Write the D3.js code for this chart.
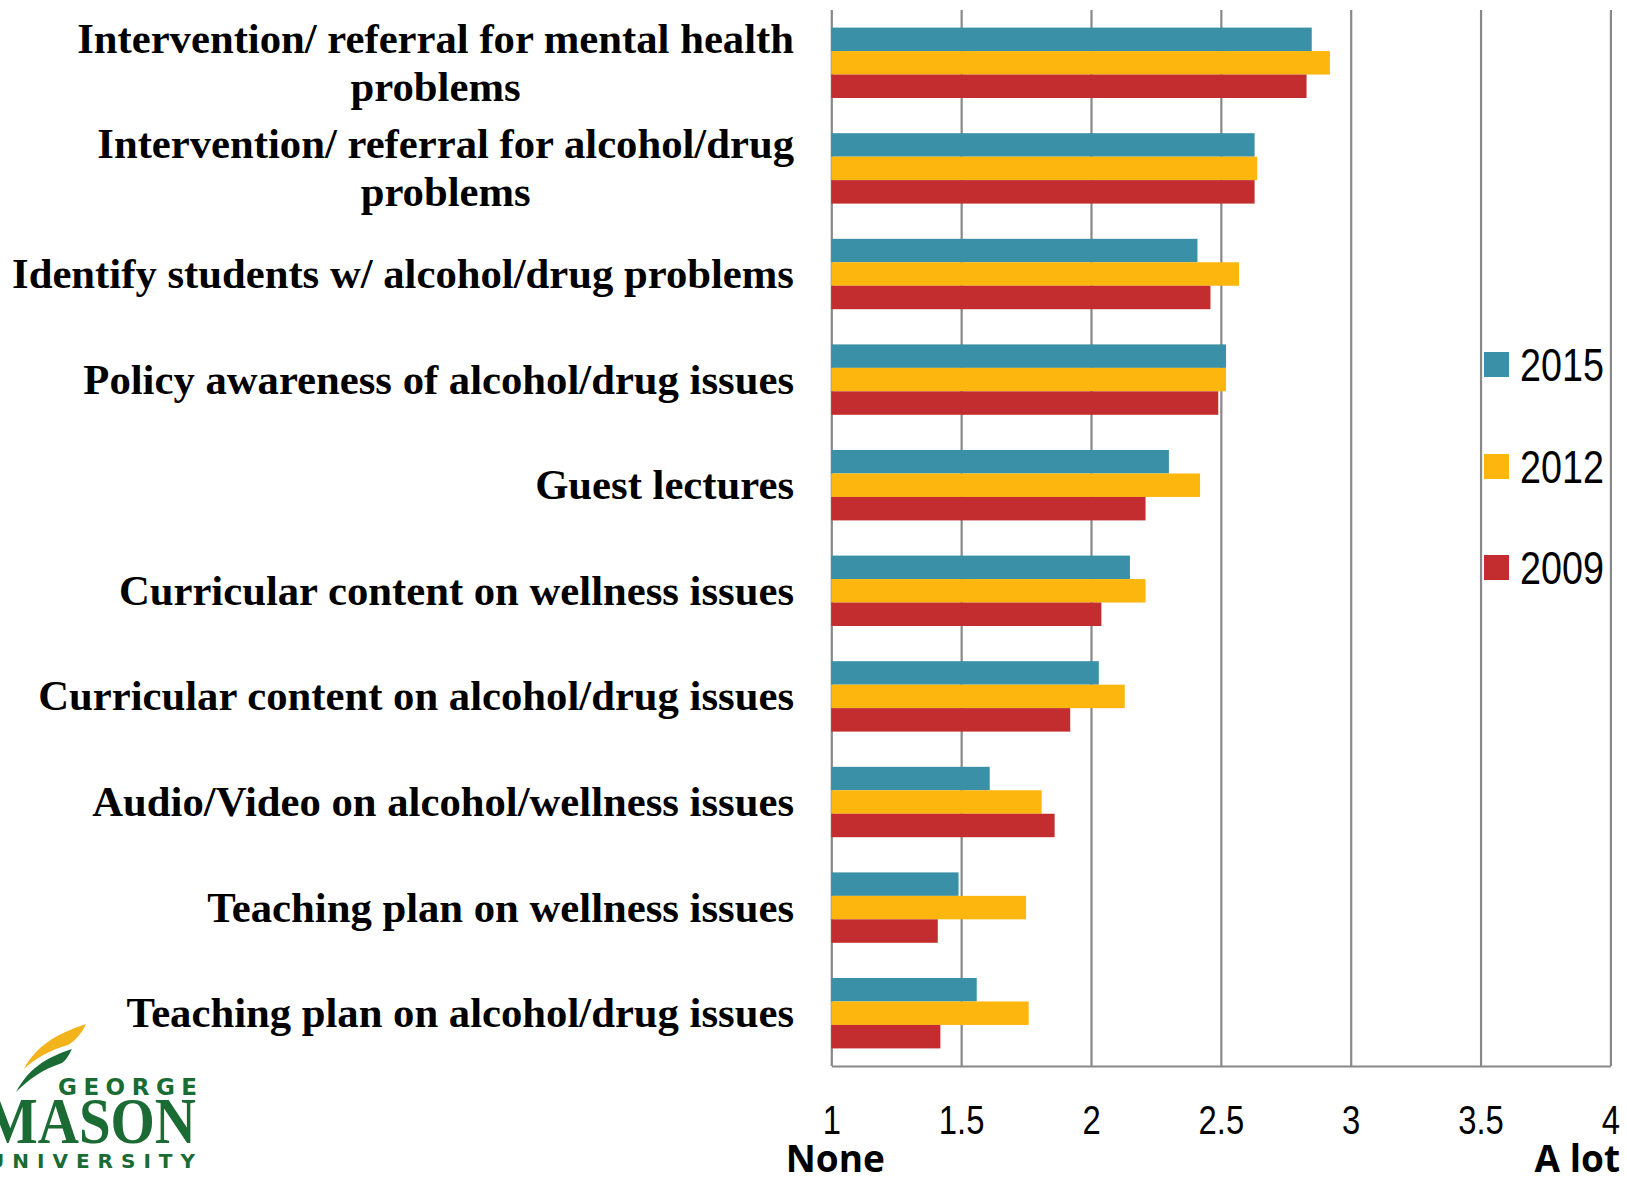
<!DOCTYPE html>
<html>
<head>
<meta charset="utf-8">
<script src="https://cdn.jsdelivr.net/npm/d3@7/dist/d3.min.js"></script>
<style>
  html, body { margin: 0; padding: 0; background: #ffffff; }
  svg { display: block; }
</style>
</head>
<body>
<svg id="chart" width="1627" height="1179"></svg>
<script>
// ---- data ----
const categories = [
  "Intervention/ referral for mental health\nproblems",
  "Intervention/ referral for alcohol/drug\nproblems",
  "Identify students w/ alcohol/drug problems",
  "Policy awareness of alcohol/drug issues",
  "Guest lectures",
  "Curricular content on wellness issues",
  "Curricular content on alcohol/drug issues",
  "Audio/Video on alcohol/wellness issues",
  "Teaching plan on wellness issues",
  "Teaching plan on alcohol/drug issues"
];
const seriesNames = ["2015", "2012", "2009"];
const values2015 = [2.85, 2.63, 2.41, 2.52, 2.30, 2.15, 2.03, 1.61, 1.49, 1.56];
const values2012 = [2.92, 2.64, 2.57, 2.52, 2.42, 2.21, 2.13, 1.81, 1.75, 1.76];
const values2009 = [2.83, 2.63, 2.46, 2.49, 2.21, 2.04, 1.92, 1.86, 1.41, 1.42];
const tickValues = [1, 1.5, 2, 2.5, 3, 3.5, 4];
const tickLabels = ["1", "1.5", "2", "2.5", "3", "3.5", "4"];
const axisEndLabels = ["None", "A lot"];
const seriesColors = ["#3a90a6", "#fdb60e", "#c32d2f"];

const seriesValues = [values2015, values2012, values2009];

// ---- layout ----
const svg = d3.select("#chart");
const plotLeft = 831.3, plotRight = 1610.4, plotTop = 10, plotBottom = 1066;

const x = d3.scaleLinear().domain([1, 4]).range([plotLeft, plotRight]);
const y = d3.scaleBand().domain(categories).range([plotTop, plotBottom])
  .paddingInner(1/3).paddingOuter(1/6);
const ySub = d3.scaleBand().domain(seriesNames).range([0, y.bandwidth()]);
const color = d3.scaleOrdinal().domain(seriesNames).range(seriesColors);

const narrowFont = "'Liberation Sans', Arial, sans-serif";
const narrowScale = 0.82;

// ---- gridlines + bottom axis ----
const axis = d3.axisBottom(x)
  .tickValues(tickValues)
  .tickFormat((d, i) => tickLabels[i])
  .tickSize(-(plotBottom - plotTop))
  .tickSizeOuter(0)
  .tickPadding(40);

const gAxis = svg.append("g")
  .attr("transform", `translate(0,${plotBottom})`)
  .call(axis);
gAxis.select(".domain").attr("stroke", "#888888").attr("stroke-width", 2.2);
gAxis.selectAll(".tick line").attr("stroke", "#888888").attr("stroke-width", 2.2);
gAxis.selectAll(".tick text")
  .attr("fill", "#000")
  .attr("transform", `scale(${narrowScale},1)`)
  .style("font-family", narrowFont)
  .style("font-size", "40px");

// ---- bars ----
const groups = svg.append("g").selectAll("g")
  .data(categories)
  .join("g")
  .attr("transform", d => `translate(0,${y(d)})`);

groups.selectAll("rect")
  .data((d, i) => seriesNames.map((s, j) => ({ s, v: seriesValues[j][i] })))
  .join("rect")
  .attr("x", x(1))
  .attr("y", d => ySub(d.s))
  .attr("width", d => x(d.v) - x(1))
  .attr("height", ySub.bandwidth())
  .attr("fill", d => color(d.s));

// ---- category labels ----
const labelRight = 794;
const lineH = 48;
const labelFont = "'Liberation Serif', 'Times New Roman', serif";
const labelSize = "42.7px";
categories.forEach(c => {
  const lines = c.split("\n");
  const cy = y(c) + y.bandwidth() / 2;
  if (lines.length === 1) {
    svg.append("text")
      .attr("x", labelRight)
      .attr("y", cy + 14)
      .attr("text-anchor", "end")
      .style("font-family", labelFont)
      .style("font-weight", "bold")
      .style("font-size", labelSize)
      .attr("fill", "#000")
      .text(lines[0]);
  } else {
    const t = svg.append("text")
      .style("font-family", labelFont)
      .style("font-weight", "bold")
      .style("font-size", labelSize)
      .attr("fill", "#000");
    const spans = lines.map((ln, k) => t.append("tspan")
      .attr("y", cy + 14 + (k - (lines.length - 1) / 2) * lineH)
      .attr("text-anchor", "middle")
      .text(ln));
    const w = Math.max(...spans.map(s => s.node().getComputedTextLength()));
    spans.forEach(s => s.attr("x", labelRight - w / 2));
  }
});

// ---- axis end labels ----
const endFont = "'Open Sans', 'Liberation Sans', sans-serif";
svg.append("text")
  .attr("x", x(1) + 4).attr("y", 1172)
  .attr("text-anchor", "middle")
  .style("font-family", endFont).style("font-weight", "bold").style("font-size", "37px")
  .text(axisEndLabels[0]);
svg.append("text")
  .attr("x", 1620).attr("y", 1172)
  .attr("text-anchor", "end")
  .style("font-family", endFont).style("font-weight", "bold").style("font-size", "37px")
  .text(axisEndLabels[1]);

// ---- legend ----
const legendTop = [352, 454, 555];
const legend = svg.append("g");
seriesNames.forEach((s, i) => {
  legend.append("rect")
    .attr("x", 1484).attr("y", legendTop[i])
    .attr("width", 25).attr("height", 25)
    .attr("fill", color(s));
  legend.append("text")
    .attr("transform", `translate(1520,${legendTop[i] + 29}) scale(${narrowScale},1)`)
    .style("font-family", narrowFont).style("font-size", "46px")
    .attr("fill", "#000")
    .text(s);
});

// ---- George Mason University logo ----
const logo = svg.append("g");
const green = "#1b6b34", gold = "#f2b31d";
logo.append("path")
  .attr("d", "M24 1069 C 36 1046, 56 1034, 86 1024 C 82 1033, 76 1040, 68 1045 C 50 1050, 36 1058, 24 1069 Z")
  .attr("fill", gold);
logo.append("path")
  .attr("d", "M16 1092 C 28 1070, 44 1058, 72 1049 C 69 1055, 66 1060, 62 1063 C 44 1069, 30 1078, 16 1092 Z")
  .attr("fill", green);
logo.append("text")
  .attr("x", 58).attr("y", 1095)
  .attr("textLength", 139).attr("lengthAdjust", "spacing")
  .style("font-family", "'DejaVu Sans', sans-serif").style("font-weight", "bold").style("font-size", "23px")
  .attr("fill", green).text("GEORGE");
logo.append("text")
  .attr("x", -16).attr("y", 1143)
  .attr("textLength", 212).attr("lengthAdjust", "spacingAndGlyphs")
  .style("font-family", "'Liberation Serif', serif").style("font-weight", "bold").style("font-size", "66px")
  .attr("fill", green).text("MASON");
logo.append("text")
  .attr("x", -12).attr("y", 1168)
  .attr("textLength", 207).attr("lengthAdjust", "spacing")
  .style("font-family", "'DejaVu Sans', sans-serif").style("font-weight", "bold").style("font-size", "20px")
  .attr("fill", green).text("UNIVERSITY");
</script>
</body>
</html>
